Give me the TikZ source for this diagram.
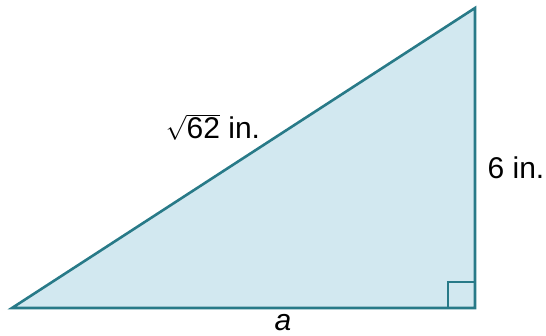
\documentclass[tikz,border=0pt]{standalone}
\usepackage{fontspec}
\setmainfont{Liberation Sans}
\definecolor{edge}{RGB}{40,122,136}
\definecolor{fillc}{RGB}{210,232,240}
\begin{document}
\begin{tikzpicture}[x=1pt,y=-1pt,
  lbl/.style={inner sep=0pt,font=\fontsize{30}{36}\selectfont}]
\useasboundingbox (0,0) rectangle (546,336);
\coordinate (A) at (12,308);
\coordinate (B) at (475,308);
\coordinate (C) at (475,8);
\filldraw[fill=fillc,draw=edge,line width=2.6pt,line join=miter] (A) -- (B) -- (C) -- cycle;
\draw[edge,line width=2.6pt] (448,308) -- (448,282) -- (475,282);
\node[lbl] (hyp) at (213,127) {$\sqrt{\mbox{62}}$ in.};
\node[lbl] (leg) at (516,168) {6 in.};
\node[lbl] (base) at (283,323) {\itshape a};
\end{tikzpicture}
\end{document}
